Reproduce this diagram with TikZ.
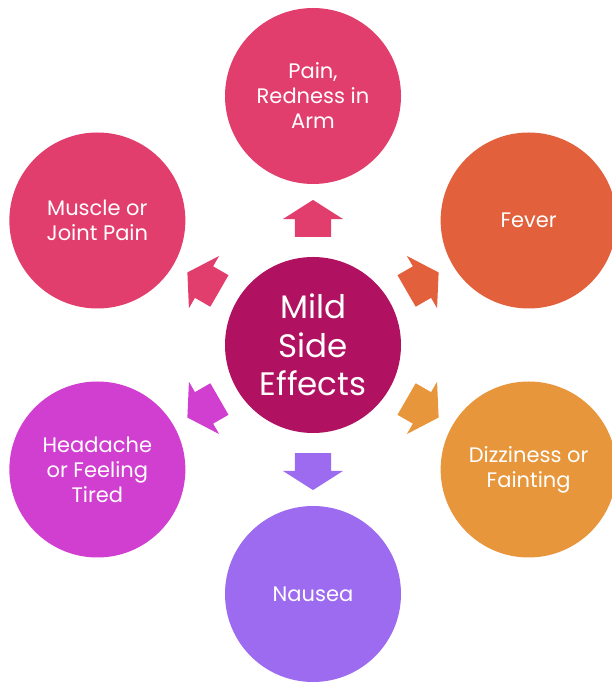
\documentclass[tikz,border=0pt]{standalone}
\usepackage{fontspec}
\setmainfont{Poppins}
\usepackage{xcolor}
\usetikzlibrary{calc, shapes.arrows}

\definecolor{hubmagenta}{HTML}{B01160}
\definecolor{rosered}{HTML}{E23E6D}
\definecolor{feverorange}{HTML}{E2603C}
\definecolor{dizzyorange}{HTML}{E8963C}
\definecolor{nauseapurple}{HTML}{9D6BEF}
\definecolor{headmagenta}{HTML}{D13FD1}

\begin{document}
\begin{tikzpicture}[x=1pt, y=1pt,
  bubble/.style={circle, fill=#1, minimum size=176pt, inner sep=0pt,
    text=white, align=center, font=\fontsize{21}{25}\selectfont},
  pointer/.style={single arrow, fill=#1, draw=none, minimum height=37pt,
    inner xsep=0pt, inner ysep=18pt, single arrow head extend=12pt,
    single arrow tip angle=115}]
  \useasboundingbox (0,0) rectangle (611,682);
  % centre bubble
  \node[bubble=hubmagenta, font=\fontsize{32.5}{38.5}\selectfont] (mse) at (313,337) {Mild\\Side\\Effects};
  % outer bubbles with block arrows
  \foreach \ang/\col/\nm/\txt in {
      90/rosered/pain/{Pain,\\Redness in\\Arm},
      30/feverorange/fever/{Fever},
      -30/dizzyorange/dizzy/{Dizziness or\\Fainting},
      -90/nauseapurple/nausea/{Nausea},
      210/headmagenta/headache/{Headache\\or Feeling\\Tired},
      150/rosered/muscle/{Muscle or\\Joint Pain}} {
    \node[bubble=\col] (\nm) at ($(mse)+(\ang:249)$) {\txt};
    \node[pointer=\col, rotate=\ang] (\nm-arrow) at ($(mse)!0.485!(\nm)$) {};
  }
\end{tikzpicture}
\end{document}
